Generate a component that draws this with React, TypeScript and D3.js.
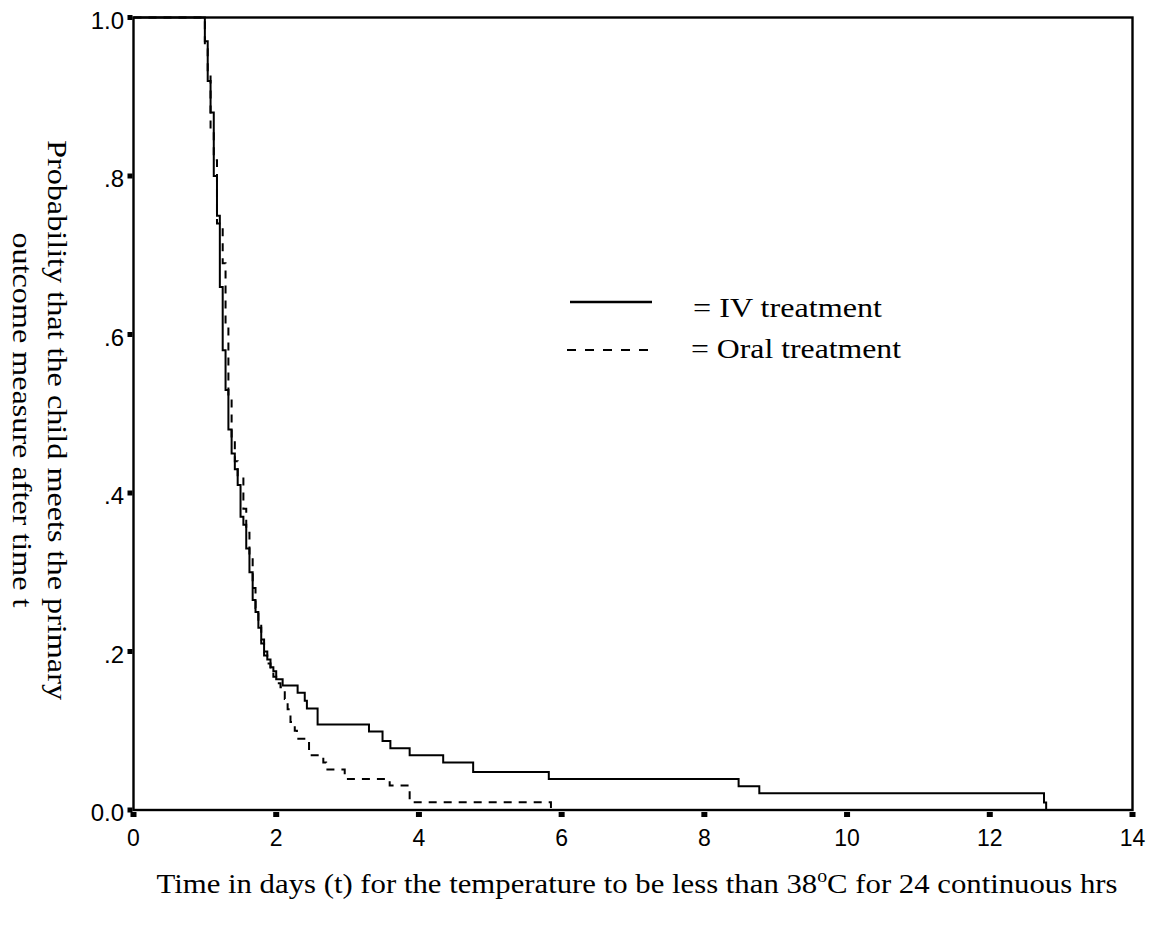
import React from "react";
import * as d3 from "d3";

// Kaplan-Meier style step data: [time in days, probability after the step]
const ivSteps: [number, number][] = [
  [0, 1], [1.0, 0.97], [1.04, 0.92], [1.08, 0.88], [1.125, 0.8], [1.17, 0.75],
  [1.21, 0.66], [1.25, 0.58], [1.29, 0.53], [1.33, 0.48], [1.375, 0.45],
  [1.42, 0.43], [1.46, 0.41], [1.5, 0.37], [1.54, 0.36], [1.58, 0.33],
  [1.625, 0.3], [1.67, 0.265], [1.71, 0.25], [1.75, 0.23], [1.79, 0.215],
  [1.83, 0.2], [1.875, 0.19], [1.92, 0.18], [1.96, 0.175], [2.0, 0.165],
  [2.09, 0.157], [2.3, 0.148], [2.4, 0.138], [2.43, 0.128], [2.58, 0.108],
  [3.3, 0.099], [3.49, 0.087], [3.6, 0.078], [3.87, 0.069], [4.34, 0.06],
  [4.76, 0.048], [5.82, 0.039], [8.48, 0.03], [8.77, 0.021], [12.76, 0.0095],
  [12.79, 0],
];

const oralSteps: [number, number][] = [
  [0, 1], [1.0, 0.96], [1.04, 0.93], [1.08, 0.86], [1.125, 0.82], [1.17, 0.74],
  [1.25, 0.69], [1.29, 0.61], [1.33, 0.52], [1.375, 0.47], [1.42, 0.44],
  [1.46, 0.42], [1.54, 0.38], [1.58, 0.35], [1.625, 0.32], [1.67, 0.28],
  [1.71, 0.255], [1.75, 0.235], [1.79, 0.21], [1.83, 0.195], [1.875, 0.185],
  [1.92, 0.175], [1.96, 0.168], [2.0, 0.16],
  [2.06, 0.155], [2.12, 0.14], [2.16, 0.127], [2.2, 0.111], [2.26, 0.1],
  [2.29, 0.09], [2.46, 0.069], [2.66, 0.06], [2.7, 0.051], [2.96, 0.039],
  [3.59, 0.031], [3.87, 0.0097], [5.85, 0],
];

const xTicks = [0, 2, 4, 6, 8, 10, 12, 14];
const yTicks = [0, 0.2, 0.4, 0.6, 0.8, 1.0];
const yTickLabels = ["0.0", ".2", ".4", ".6", ".8", "1.0"];

const legendLabels = ["= IV treatment", "= Oral treatment"];

export default function App() {
  const width = 1155;
  const height = 934;
  const left = 133.5, right = 1132.5, top = 17.5, bottom = 810;

  const x = d3.scaleLinear().domain([0, 14]).range([left, right]);
  const y = d3.scaleLinear().domain([0, 1]).range([bottom, top]);

  const line = d3.line<[number, number]>()
    .x(d => x(d[0]))
    .y(d => y(d[1]))
    .curve(d3.curveStepAfter);

  const serif = "'Liberation Serif', 'Times New Roman', serif";
  const sans = "'Liberation Sans', Arial, sans-serif";

  return (
    <svg width={width} height={height} style={{ position: "absolute", left: 0, top: 0, background: "#fff" }}>
      {/* curves */}
      <path d={line(ivSteps) || ""} fill="none" stroke="#000" strokeWidth={2} />
      <path d={line(oralSteps) || ""} fill="none" stroke="#000" strokeWidth={2} strokeDasharray="8,7" />

      {/* frame */}
      <rect x={left} y={top} width={right - left} height={bottom - top} fill="none" stroke="#000" strokeWidth={2.4} />

      {/* x ticks */}
      {xTicks.map(t => (
        <g key={"x" + t}>
          <rect x={x(t) - 3} y={bottom + 2} width={6} height={5} fill="#000" />
          <text x={x(t)} y={846} textAnchor="middle" fontFamily={sans} fontSize={23}>{t}</text>
        </g>
      ))}

      {/* y ticks */}
      {yTicks.map((t, i) => (
        <g key={"y" + t}>
          <rect x={left - 6} y={y(t) - 2.5} width={5} height={5} fill="#000" />
          <text x={124} y={y(t) + 11} textAnchor="end" fontFamily={sans} fontSize={24}>{yTickLabels[i]}</text>
        </g>
      ))}

      {/* legend */}
      <line x1={570} x2={652} y1={302} y2={302} stroke="#000" strokeWidth={2.6} />
      <text x={693} y={317} fontFamily={serif} fontSize={28} textLength={189} lengthAdjust="spacingAndGlyphs">{legendLabels[0]}</text>
      <line x1={567} x2={650} y1={350} y2={350} stroke="#000" strokeWidth={1.8} strokeDasharray="9,9" />
      <text x={691} y={358} fontFamily={serif} fontSize={28} textLength={210} lengthAdjust="spacingAndGlyphs">{legendLabels[1]}</text>

      {/* axis titles */}
      <text x={637} y={893} textAnchor="middle" fontFamily={serif} fontSize={28}
        textLength={961} lengthAdjust="spacingAndGlyphs">
        Time in days (t) for the temperature to be less than 38<tspan dy={-11} fontSize={18}>o</tspan><tspan dy={11}>C for 24 continuous hrs</tspan>
      </text>
      <g transform="translate(48, 420) rotate(90)">
        <text x={0} y={0} textAnchor="middle" fontFamily={serif} fontSize={28}
          textLength={560} lengthAdjust="spacingAndGlyphs">
          Probability that the child meets the primary
        </text>
      </g>
      <g transform="translate(13, 420) rotate(90)">
        <text x={0} y={0} textAnchor="middle" fontFamily={serif} fontSize={28}
          textLength={375} lengthAdjust="spacingAndGlyphs">
          outcome measure after time t
        </text>
      </g>
    </svg>
  );
}
